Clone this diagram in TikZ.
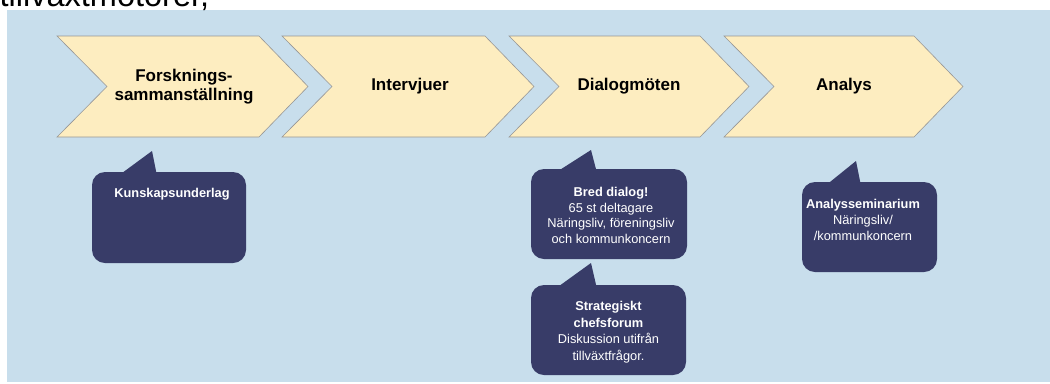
\documentclass[tikz,border=0pt]{standalone}
\usepackage{fontspec}
\setmainfont{Liberation Sans}
\definecolor{bgblue}{RGB}{200,222,236}
\definecolor{chevfill}{RGB}{253,237,192}
\definecolor{chevline}{RGB}{150,150,150}
\definecolor{navy}{RGB}{56,60,104}
\tikzset{
  chevtext/.style={align=center, inner sep=0pt, font=\fontsize{17bp}{19bp}\selectfont\bfseries, text=black},
  callbox/.style={fill=navy, rounded corners=13bp, inner sep=0pt},
  calltext/.style={align=center, inner sep=0pt, text=white, font=\fontsize{12.8bp}{15.8bp}\selectfont},
  chevshape/.style={fill=chevfill, draw=chevline, line width=0.6bp, line join=miter},
  tail/.style={fill=navy}
}
\newcommand{\chevron}[2]{%
  \path[chevshape] (#1,36) -- (#2,36) -- ({#2+49},86.5) -- (#2,137) -- (#1,137) -- ({#1+50},86.5) -- cycle;}
\begin{document}
\begin{tikzpicture}[x=1bp,y=-1bp]
\useasboundingbox (0,0) rectangle (1050,383);
\clip (0,0) rectangle (1050,383);
\fill[bgblue] (7,10) rectangle (1050,382);
\node[anchor=base west, inner sep=0pt, font=\fontsize{32.5bp}{36bp}\selectfont] (title) at (-0.5,6.5) {tillväxtmotorer,};

% chevrons
\chevron{57}{259}
\chevron{282}{485}
\chevron{509}{700}
\chevron{724}{914}
\node[chevtext] (c1) at (184,86.5) {Forsknings-\\sammanställning};
\node[chevtext] (c2) at (410,86.5) {Intervjuer};
\node[chevtext] (c3) at (629,86.5) {Dialogmöten};
\node[chevtext] (c4) at (844,86.5) {Analys};

% callout 1
\node[callbox, minimum width=154bp, minimum height=91bp] (b1) at (169,217.5) {};
\fill[tail] (118,176) -- (152,151) -- (157,176) -- cycle;
\node[calltext, anchor=base] (t1) at (172,197.5) {\bfseries Kunskapsunderlag};

% callout 2
\node[callbox, minimum width=156bp, minimum height=90bp] (b2) at (609,214) {};
\fill[tail] (555,173) -- (591,150) -- (597,173) -- cycle;
\node[calltext] (t2) at (611,215.5) {{\bfseries Bred dialog!}\\65 st deltagare\\Näringsliv, föreningsliv\\och kommunkoncern};

% callout 3
\node[callbox, minimum width=155bp, minimum height=90bp] (b3) at (608.5,330) {};
\fill[tail] (555,289) -- (591,263) -- (597,289) -- cycle;
\node[calltext, font=\fontsize{12.8bp}{16.6bp}\selectfont] (t3) at (608.5,332) {{\bfseries Strategiskt}\\{\bfseries chefsforum}\\Diskussion utifrån\\tillväxtfrågor.};

% callout 4
\node[callbox, minimum width=135bp, minimum height=90bp] (b4) at (869.5,227) {};
\fill[tail] (825,186) -- (856,161) -- (861,186) -- cycle;
\node[calltext] (t4) at (863,220) {{\bfseries Analysseminarium}\\Näringsliv/\\/kommunkoncern};
\end{tikzpicture}
\end{document}
